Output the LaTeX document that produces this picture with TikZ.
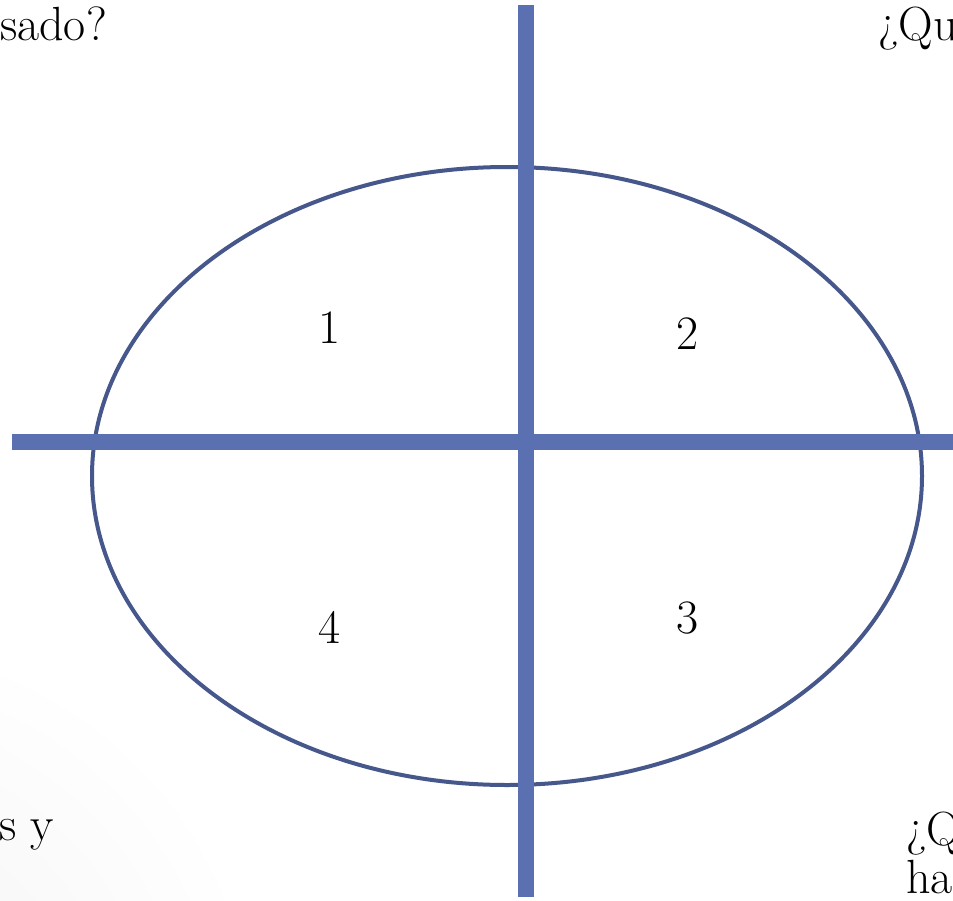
\documentclass[tikz,border=0pt]{standalone}
\usetikzlibrary{shadings}
\definecolor{axisblue}{HTML}{5B70B1}
\definecolor{ringblue}{HTML}{46578C}
\tikzset{
  axis/.style={draw=axisblue, line width=16pt},
  ring/.style={draw=ringblue, line width=4pt},
  lbl/.style={inner sep=0pt, anchor=base west, font=\fontsize{48}{56}\selectfont},
  num/.style={inner sep=0pt, anchor=base, font=\fontsize{48}{56}\selectfont}
}
\begin{document}
\begin{tikzpicture}[x=1pt,y=-1pt]
\useasboundingbox (0,0) rectangle (953,900);
\clip (0,0) rectangle (953,900);
\fill[white] (0,0) rectangle (953,900);
\shade[inner color=black!5, outer color=white] (-150,1050) circle (420);
\draw[ring] (507,476) ellipse [x radius=415, y radius=309];
\coordinate (vt) at (526,5);
\coordinate (vb) at (526,897);
\coordinate (hl) at (12,442);
\coordinate (hr) at (960,442);
\draw[axis] (hl) -- (hr);
\draw[axis] (vt) -- (vb);
\node[num] (n1) at (330,343) {1};
\node[num] (n2) at (688,349) {2};
\node[num] (n4) at (330,643) {4};
\node[num] (n3) at (688,633) {3};
\node[lbl] (tl) at (0,40) {sado?};
\node[lbl] (tr) at (878,40) {¿Qu};
\node[lbl] (bl) at (-1,840) {s y};
\node[lbl] (br1) at (906,845) {¿Q};
\node[lbl] (br2) at (906,893) {ha};
\end{tikzpicture}
\end{document}
